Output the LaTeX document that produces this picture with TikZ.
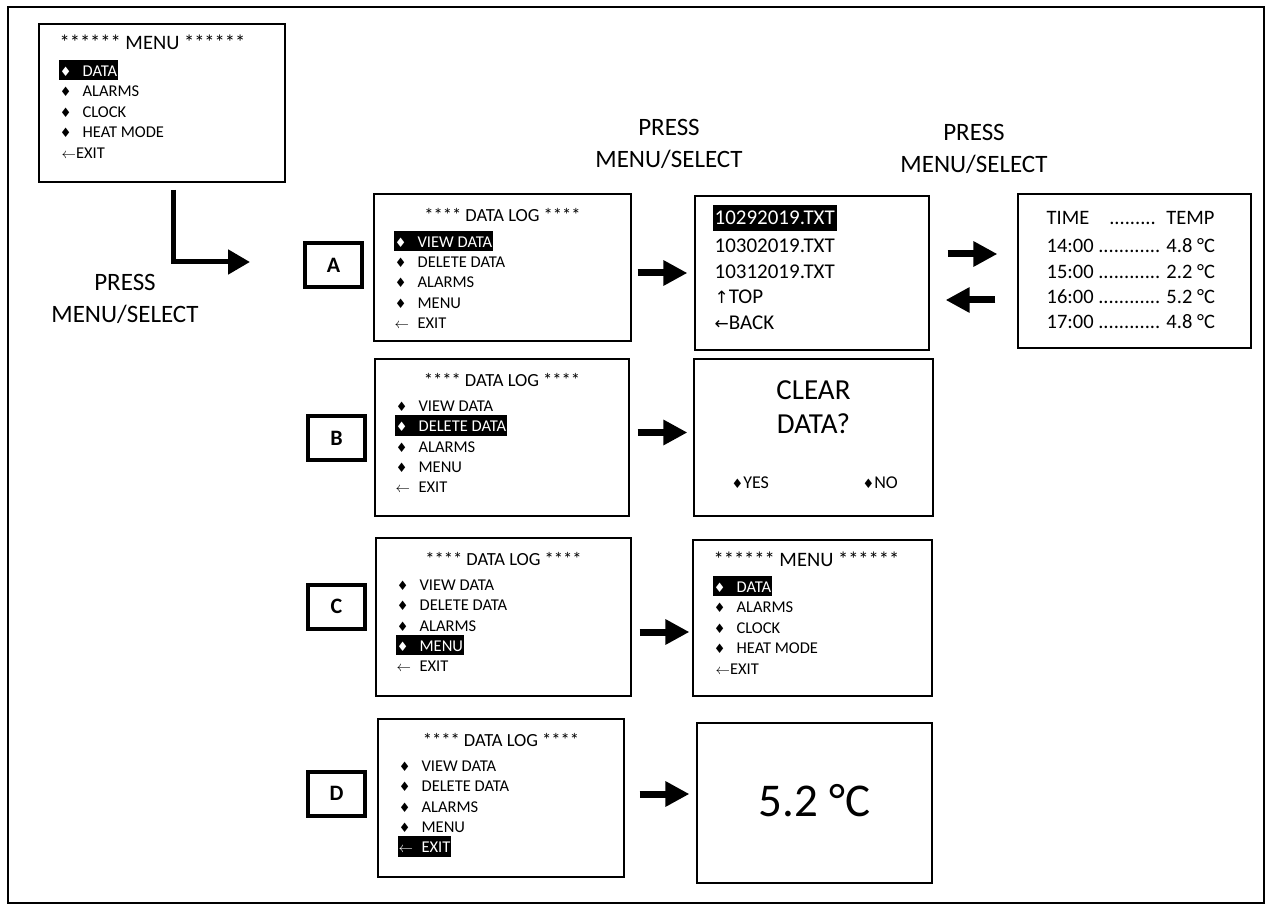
\documentclass[tikz,border=0pt]{standalone}
\usepackage{fontspec}
\setmainfont{Carlito}
\newfontfamily\symf{DejaVu Sans}
\usetikzlibrary{arrows.meta}
\newcommand{\fs}[2]{\fontsize{#1}{#2}\selectfont}
\newcommand{\dm}{{\symf\fontsize{13}{13}\selectfont ♦}}
\newcommand{\bul}[1]{\makebox[12pt]{\dm}\hspace{11pt}#1}
\newcommand{\exlog}{\makebox[23pt][l]{\fs{15}{15}$\leftarrow$}EXIT}
\newcommand{\exmenu}{\hspace{2pt}{\fs{15}{15}$\leftarrow$}EXIT}
\begin{document}
\begin{tikzpicture}[x=1pt,y=-1pt,
  screen/.style={draw, line width=1.2pt, inner sep=0pt},
  lettertag/.style={draw, line width=4pt, inner sep=0pt, minimum width=57, minimum height=44, font=\fs{22}{22}\bfseries},
  menuitem/.style={anchor=base west, inner xsep=1pt, inner ysep=0pt, text height=16.5pt, text depth=4pt, font=\fs{16.5}{18}},
  menusel/.style={menuitem, fill=black, text=white},
  loghead/.style={anchor=base, inner sep=0pt, font=\fs{18.5}{20}},
  menuhead/.style={anchor=base west, inner sep=0pt, font=\fs{20.5}{22}},
  fline/.style={anchor=base west, inner xsep=2pt, inner ysep=0pt, text height=19pt, text depth=7pt, font=\fs{21}{24}},
  tline/.style={anchor=base west, inner sep=0pt, font=\fs{20.5}{24}},
  press/.style={anchor=base, align=center, inner sep=0pt, font=\fs{25}{32}},
  fat/.style={line width=7pt, -{Triangle[length=24pt,width=24pt]}},
  bentarrow/.style={line width=5pt, line join=miter, -{Triangle[length=22pt,width=24pt]}}
]
  \useasboundingbox (0,0) rectangle (1269,909);
  \draw[line width=2pt] (8,7) rectangle (1264,903);

  % main menu
  \node[screen, minimum width=246, minimum height=158] (menuTop) at (162,103) {};
  \node[menuhead] (menuTopt) at ([shift={(21,26)}]menuTop.north west) {****** MENU ******};
  \node[menusel] (menuTop1) at ([shift={(20,53)}]menuTop.north west) {\bul{DATA}};
  \node[menuitem] (menuTop2) at ([shift={(20,73.5)}]menuTop.north west) {\bul{ALARMS}};
  \node[menuitem] (menuTop3) at ([shift={(20,94)}]menuTop.north west) {\bul{CLOCK}};
  \node[menuitem] (menuTop4) at ([shift={(20,114.5)}]menuTop.north west) {\bul{HEAT MODE}};
  \node[menuitem] (menuTop5) at ([shift={(20,135)}]menuTop.north west) {\exmenu};

  \coordinate (bendTop) at (173,190);
  \coordinate (bendCorner) at (173,262);
  \coordinate (bendTip) at (250,262);
  \draw[bentarrow] (bendTop) -- (bendCorner) -- (bendTip);

  \node[press] (pressL) at (125,323) {PRESS\\MENU/SELECT};
  \node[press] (pressM) at (669,168) {PRESS\\MENU/SELECT};
  \node[press] (pressR) at (974,173) {PRESS\\MENU/SELECT};

  \node[lettertag] (labA) at (333.5,265.5) {A};
  \node[lettertag] (labB) at (336.5,438) {B};
  \node[lettertag] (labC) at (336.5,606.5) {C};
  \node[lettertag] (labD) at (336.5,793.5) {D};

  % data log A
  \node[screen, minimum width=257, minimum height=147] (logA) at (502.5,267.5) {};
  \node[loghead] (logAt) at ([shift={(0,28)}]logA.north) {**** DATA LOG ****};
  \node[menusel] (logA1) at ([shift={(20,54)}]logA.north west) {\bul{VIEW DATA}};
  \node[menuitem] (logA2) at ([shift={(20,74.3)}]logA.north west) {\bul{DELETE DATA}};
  \node[menuitem] (logA3) at ([shift={(20,94.6)}]logA.north west) {\bul{ALARMS}};
  \node[menuitem] (logA4) at ([shift={(20,115)}]logA.north west) {\bul{MENU}};
  \node[menuitem] (logA5) at ([shift={(20,135.3)}]logA.north west) {\exlog};

  % data log B
  \node[screen, minimum width=254, minimum height=157] (logB) at (502,437.5) {};
  \node[loghead] (logBt) at ([shift={(0,28)}]logB.north) {**** DATA LOG ****};
  \node[menuitem] (logB1) at ([shift={(20,53)}]logB.north west) {\bul{VIEW DATA}};
  \node[menusel] (logB2) at ([shift={(20,73.3)}]logB.north west) {\bul{DELETE DATA}};
  \node[menuitem] (logB3) at ([shift={(20,93.6)}]logB.north west) {\bul{ALARMS}};
  \node[menuitem] (logB4) at ([shift={(20,114)}]logB.north west) {\bul{MENU}};
  \node[menuitem] (logB5) at ([shift={(20,134.3)}]logB.north west) {\exlog};

  % data log C
  \node[screen, minimum width=255, minimum height=158] (logC) at (503.5,617) {};
  \node[loghead] (logCt) at ([shift={(0,28)}]logC.north) {**** DATA LOG ****};
  \node[menuitem] (logC1) at ([shift={(20,53)}]logC.north west) {\bul{VIEW DATA}};
  \node[menuitem] (logC2) at ([shift={(20,73.3)}]logC.north west) {\bul{DELETE DATA}};
  \node[menuitem] (logC3) at ([shift={(20,93.6)}]logC.north west) {\bul{ALARMS}};
  \node[menusel] (logC4) at ([shift={(20,114)}]logC.north west) {\bul{MENU}};
  \node[menuitem] (logC5) at ([shift={(20,134.3)}]logC.north west) {\exlog};

  % data log D
  \node[screen, minimum width=246, minimum height=158] (logD) at (501,798) {};
  \node[loghead] (logDt) at ([shift={(0,28)}]logD.north) {**** DATA LOG ****};
  \node[menuitem] (logD1) at ([shift={(20,53)}]logD.north west) {\bul{VIEW DATA}};
  \node[menuitem] (logD2) at ([shift={(20,73.3)}]logD.north west) {\bul{DELETE DATA}};
  \node[menuitem] (logD3) at ([shift={(20,93.6)}]logD.north west) {\bul{ALARMS}};
  \node[menuitem] (logD4) at ([shift={(20,114)}]logD.north west) {\bul{MENU}};
  \node[menusel] (logD5) at ([shift={(20,134.3)}]logD.north west) {\exlog};

  % file list
  \node[screen, minimum width=234, minimum height=154] (files) at (812,273) {};
  \node[fline, fill=black, text=white] (files1) at ([shift={(18,29)}]files.north west) {10292019.TXT};
  \node[fline] (files2) at ([shift={(18,57)}]files.north west) {10302019.TXT};
  \node[fline] (files3) at ([shift={(18,83)}]files.north west) {10312019.TXT};
  \node[fline] (files4) at ([shift={(18,108)}]files.north west) {{\symf\fs{17}{17}↑}TOP};
  \node[fline] (files5) at ([shift={(18,134)}]files.north west) {{\symf\fs{17}{17}←}BACK};

  % readings
  \node[screen, minimum width=233, minimum height=154] (table) at (1134.5,271) {};
  \node[tline] (table0) at ([shift={(29,31)}]table.north west) {\makebox[168pt][l]{TIME\hspace{20pt}.........\hfill TEMP}};
  \node[tline] (table1) at ([shift={(29,59)}]table.north west) {14:00 ............ 4.8 °C};
  \node[tline] (table2) at ([shift={(29,85)}]table.north west) {15:00 ............ 2.2 °C};
  \node[tline] (table3) at ([shift={(29,110)}]table.north west) {16:00 ............ 5.2 °C};
  \node[tline] (table4) at ([shift={(29,135)}]table.north west) {17:00 ............ 4.8 °C};

  % clear data
  \node[screen, minimum width=239, minimum height=157] (clear) at (813.5,437.5) {};
  \node[anchor=base, align=center, inner sep=0pt, font=\fs{29}{34}] (clearq) at ([shift={(0,75)}]clear.north) {CLEAR\\DATA?};
  \node[anchor=base west, inner sep=0pt, font=\fs{18}{20}] (clearyes) at ([shift={(38,130)}]clear.north west) {\dm YES};
  \node[anchor=base west, inner sep=0pt, font=\fs{18}{20}] (clearno) at ([shift={(169,130)}]clear.north west) {\dm NO};

  % menu again
  \node[screen, minimum width=239, minimum height=156] (menuC) at (812.5,618) {};
  \node[menuhead] (menuCt) at ([shift={(21,27)}]menuC.north west) {****** MENU ******};
  \node[menusel] (menuC1) at ([shift={(20,53)}]menuC.north west) {\bul{DATA}};
  \node[menuitem] (menuC2) at ([shift={(20,73.5)}]menuC.north west) {\bul{ALARMS}};
  \node[menuitem] (menuC3) at ([shift={(20,94)}]menuC.north west) {\bul{CLOCK}};
  \node[menuitem] (menuC4) at ([shift={(20,114.5)}]menuC.north west) {\bul{HEAT MODE}};
  \node[menuitem] (menuC5) at ([shift={(20,135)}]menuC.north west) {\exmenu};

  % temperature
  \node[screen, minimum width=235, minimum height=160] (temp) at (814.5,803) {};
  \node[anchor=base, inner sep=0pt, font=\fs{47}{50}] (tempv) at ([shift={(0,94)}]temp.north) {5.2 °C};

  % arrows
  \draw[fat, shorten <=6pt, shorten >=7pt] (logA.east |- files.west) -- (files.west);
  \draw[fat, shorten <=8pt, shorten >=6pt] ([yshift=5pt]logB.east) -- ([yshift=5pt]clear.west);
  \draw[fat, shorten <=8pt, shorten >=3pt] ([yshift=-15pt]logC.east) -- ([yshift=-15pt]logC.east -| menuC.west);
  \draw[fat, shorten <=15pt, shorten >=7pt] ([yshift=4pt]logD.east) -- ([yshift=4pt]logD.east -| temp.west);
  \draw[fat, shorten <=18pt, shorten >=20pt] ([yshift=19pt]files.east) -- ([yshift=19pt]files.east -| table.west);
  \draw[fat, shorten <=22pt, shorten >=16pt] ([yshift=-27pt]files.east -| table.west) -- ([yshift=-27pt]files.east);
\end{tikzpicture}
\end{document}
